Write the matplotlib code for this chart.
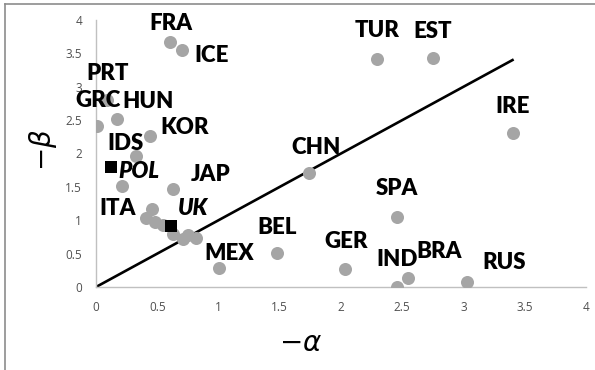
import matplotlib
matplotlib.use("Agg")
import matplotlib.pyplot as plt
from matplotlib.lines import Line2D

# grey countries: -alpha, -beta
names = ["FRA", "ICE", "PRT", "GRC", "HUN", "KOR", "IDS", "", "JAP",
         "", "ITA", "", "", "", "", "", "",
         "MEX", "BEL", "CHN", "TUR", "EST", "IRE", "SPA", "GER", "IND", "BRA", "RUS"]
alpha = [0.60, 0.70, 0.09, 0.01, 0.17, 0.44, 0.33, 0.21, 0.63,
         0.46, 0.41, 0.48, 0.55, 0.63, 0.71, 0.75, 0.82,
         1.00, 1.48, 1.74, 2.29, 2.75, 3.40, 2.46, 2.03, 2.46, 2.55, 3.03]
beta = [3.67, 3.55, 2.80, 2.41, 2.52, 2.26, 1.96, 1.51, 1.47,
        1.17, 1.03, 0.97, 0.93, 0.79, 0.72, 0.78, 0.73,
        0.28, 0.51, 1.71, 3.42, 3.43, 2.31, 1.05, 0.27, 0.00, 0.13, 0.07]

# highlighted countries
hl_names = ["POL", "UK"]
hl_alpha = [0.12, 0.61]
hl_beta = [1.80, 0.91]

# 45 degree reference line
line_x = [0, 3.4]
line_y = [0, 3.4]

# label offsets in pixels (dx, dy)
offsets = {
    "FRA": (1, 19), "ICE": (30, -5), "PRT": (1, 27), "GRC": (1, 26),
    "HUN": (31, 17), "KOR": (35, 9), "IDS": (-11, 13), "JAP": (37, 14),
    "ITA": (-29, 10), "MEX": (11, 15), "BEL": (0, 25), "CHN": (7, 25),
    "TUR": (1, 28), "EST": (0, 27), "IRE": (0, 26), "SPA": (0, 28),
    "GER": (1, 27), "IND": (0, 28), "BRA": (31, 27), "RUS": (37, 20),
    "POL": (28, -5), "UK": (22, 18),
}

LABEL_FONT = "Lato"

fig = plt.figure(figsize=(5.95, 3.70), dpi=100)
ax = fig.add_axes([96 / 595, 83 / 370, 490 / 595, 267 / 370])

ax.plot(line_x, line_y, color="black", linewidth=1.9, zorder=2)
ax.scatter(alpha, beta, s=88, color="#a5a5a5", linewidths=0, zorder=3)
ax.scatter(hl_alpha, hl_beta, s=80, marker="s", color="black", linewidths=0, zorder=4)

for n, x, y in zip(names, alpha, beta):
    if n:
        ax.annotate(n, (x, y), xytext=offsets[n], textcoords="offset pixels",
                    ha="center", va="center", fontsize=16, fontweight="heavy",
                    family=LABEL_FONT, color="black", zorder=5)
for n, x, y in zip(hl_names, hl_alpha, hl_beta):
    ax.annotate(n, (x, y), xytext=offsets[n], textcoords="offset pixels",
                ha="center", va="center", fontsize=16, fontweight="heavy",
                style="italic", family=LABEL_FONT, color="black", zorder=5)

ticks = [0, 0.5, 1, 1.5, 2, 2.5, 3, 3.5, 4]
tick_labels = ["0", "0.5", "1", "1.5", "2", "2.5", "3", "3.5", "4"]
ax.set_xlim(0, 4)
ax.set_ylim(0, 4)
ax.set_xticks(ticks)
ax.set_yticks(ticks)
ax.set_xticklabels(tick_labels)
ax.set_yticklabels(tick_labels)
ax.tick_params(length=0, labelsize=8.5, labelcolor="#505050", pad=10)
for lab in ax.get_xticklabels() + ax.get_yticklabels():
    lab.set_family("Open Sans")

for s in ["top", "right"]:
    ax.spines[s].set_visible(False)
for s in ["left", "bottom"]:
    ax.spines[s].set_color("#c0c0c0")
    ax.spines[s].set_linewidth(1.0)
ax.set_facecolor("none")

fig.text(301 / 595, 1 - 343 / 370, r"$-\alpha$", fontsize=20, ha="center", va="center")
fig.text(43 / 595, 1 - 150 / 370, r"$-\beta$", fontsize=20, ha="center", va="center",
         rotation=90)

# outer chart frame (only left and top edges visible)
fig.add_artist(Line2D([5 / 595, 5 / 595], [0, 1 - 4 / 370], transform=fig.transFigure,
                      color="#8c8c8c", linewidth=1.2))
fig.add_artist(Line2D([5 / 595, 1], [1 - 4 / 370, 1 - 4 / 370], transform=fig.transFigure,
                      color="#8c8c8c", linewidth=1.2))

fig.savefig("out.png", dpi=100)
